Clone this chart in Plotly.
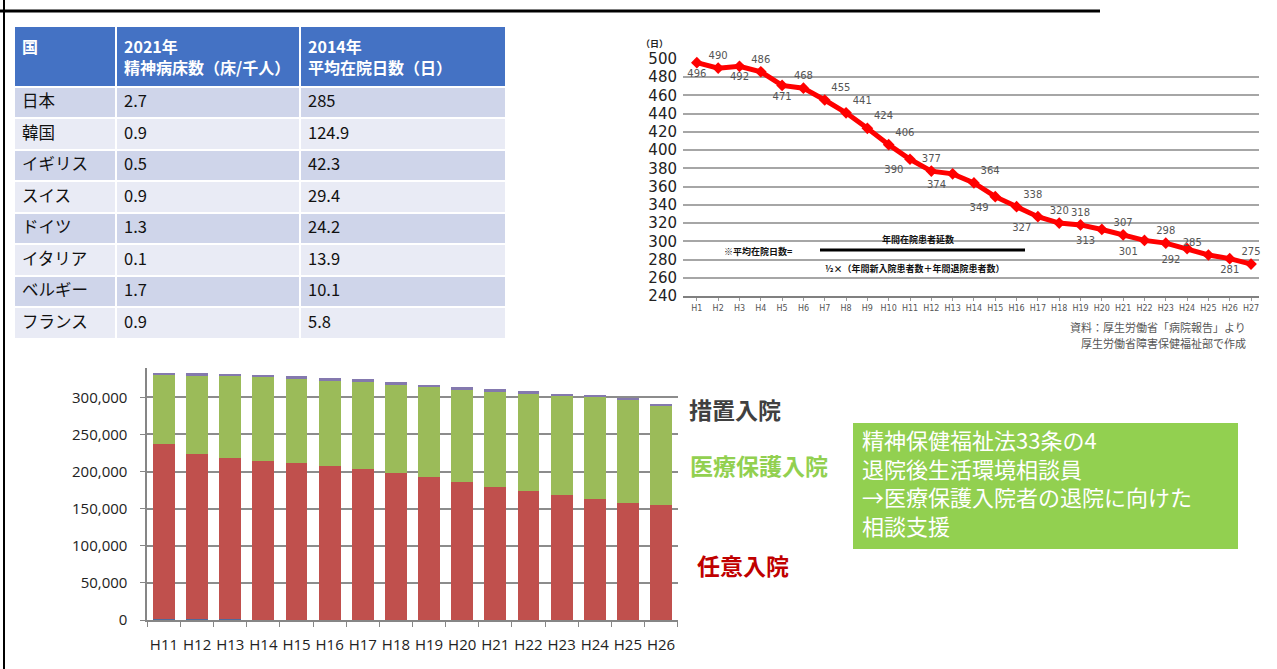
import plotly.graph_objects as go

W, H = 1277, 669
JP = "Noto Sans CJK JP"

# ---- table data ----
countries = ["日本", "韓国", "イギリス", "スイス", "ドイツ", "イタリア", "ベルギー", "フランス"]
beds_2021 = ["2.7", "0.9", "0.5", "0.9", "1.3", "0.1", "1.7", "0.9"]
stay_2014 = ["285", "124.9", "42.3", "29.4", "24.2", "13.9", "10.1", "5.8"]
table_header = ["<b>国</b>", "<b>2021年<br>精神病床数（床/千人）</b>", "<b>2014年<br>平均在院日数（日）</b>"]

# ---- average length of stay (H1..H27) ----
years_stay = ["H%d" % i for i in range(1, 28)]
avg_stay = [496, 490, 492, 486, 471, 468, 455, 441, 424, 406, 390, 377, 374, 364,
            349, 338, 327, 320, 318, 313, 307, 301, 298, 292, 285, 281, 275]
stay_label_pos = ["bottom center", "top center", "bottom center", "top center", "bottom center",
                  "top center", "top right", "top right", "top right", "top right",
                  "bottom left", "top center", "bottom left", "top right", "bottom left",
                  "top right", "bottom left", "top center", "top center", "bottom left",
                  "top center", "bottom left", "top center", "bottom left", "top left",
                  "bottom center", "top center"]

# ---- inpatients by admission type (H11..H26) ----
years_adm = ["H%d" % i for i in range(11, 27)]
other_adm = [1500, 1000, 1500, 600, 0, 0, 0, 0, 0, 0, 0, 0, 0, 0, 0, 0]
voluntary = [235200, 222200, 216700, 214000, 211100, 207400, 203000, 198400, 192200, 185500,
             179600, 174200, 168400, 163400, 157600, 154900]
medical_protection = [93000, 105900, 110600, 112600, 115000, 116200, 118900, 119600, 122300,
                      126000, 129300, 132100, 134700, 137700, 139400, 134600]
involuntary = [3400, 3200, 3000, 2800, 2600, 2400, 2300, 2200, 2100, 2000, 1900, 1800,
               1700, 1600, 1600, 1500]

box_lines = ["精神保健福祉法33条の4", "退院後生活環境相談員", "→医療保護入院者の退院に向けた", "相談支援"]


def fx(px):
    return px / W


def fy(py):
    return 1 - py / H


fig = go.Figure()

# ---- table ----
row_fill = ["#CFD5EA" if i % 2 == 0 else "#E9EBF5" for i in range(len(countries))]
fig.add_trace(go.Table(
    domain=dict(x=[fx(14), fx(506)], y=[fy(360), fy(26)]),
    columnwidth=[102, 184, 206],
    header=dict(values=table_header, fill_color="#4472C4", line=dict(color="white", width=2),
                font=dict(family=JP, size=16, color="white"), align="left", height=52),
    cells=dict(values=[countries, beds_2021, stay_2014], fill_color=[row_fill] * 3,
               line=dict(color="white", width=2),
               font=dict(family=JP, size=16.5, color="#111111"), align="left", height=31.5),
))

# ---- line chart ----
fig.add_trace(go.Scatter(
    x=list(range(len(avg_stay))), y=avg_stay, mode="lines+markers+text",
    line=dict(color="#FF0000", width=5), marker=dict(symbol="diamond", size=9, color="#FF0000"),
    text=[str(v) for v in avg_stay], textposition=stay_label_pos,
    textfont=dict(family="DejaVu Sans", size=10, color="#555555"),
    xaxis="x", yaxis="y", showlegend=False, cliponaxis=False,
))

# ---- stacked bars ----
bar_series = [
    ("その他", other_adm, "#4F6A9B"),
    ("任意入院", voluntary, "#C0504D"),
    ("医療保護入院", medical_protection, "#9BBB59"),
    ("措置入院", involuntary, "#8479AE"),
]
for name, vals, col in bar_series:
    fig.add_trace(go.Bar(x=years_adm, y=vals, name=name, marker=dict(color=col, line=dict(width=0)),
                         xaxis="x2", yaxis="y2", showlegend=False))

fig.update_layout(
    width=W, height=H, margin=dict(l=0, r=0, t=0, b=0, pad=0), autosize=False,
    paper_bgcolor="white", plot_bgcolor="white",
    barmode="stack", bargap=0.34,
    xaxis=dict(domain=[fx(683), fx(1258.5)], anchor="y", range=[-0.65, 26.35], tickmode="array",
               tickvals=list(range(len(years_stay))), ticktext=years_stay, tickangle=0, automargin=False,
               tickfont=dict(family="DejaVu Sans", size=8, color="#555555"),
               showgrid=False, zeroline=False, showline=True, linecolor="#808080", linewidth=2,
               ticks="outside", ticklen=3, tickcolor="#999999"),
    yaxis=dict(domain=[fy(296), fy(59)], anchor="x", range=[240, 500], dtick=20, tick0=240, automargin=False,
               tickfont=dict(family="DejaVu Sans", size=15, color="#222222"),
               showgrid=True, gridcolor="#A6A6A6", gridwidth=2, zeroline=False, showline=False,
               ticklabelstandoff=5),
    xaxis2=dict(domain=[fx(147.4), fx(677.6)], anchor="y2", range=[-0.5, 15.5], tickangle=0, automargin=False,
                tickfont=dict(family="Open Sans", size=15, color="#222222"),
                showgrid=False, zeroline=False, showline=True, linecolor="#868686", linewidth=2,
                ticks="outside", ticklen=5, tickcolor="#868686", tickson="boundaries",
                ticklabelstandoff=10),
    yaxis2=dict(domain=[fy(620), fy(367.6)], anchor="x2", range=[0, 340000], dtick=50000, tickformat=",",
                automargin=False,
                tickfont=dict(family="Open Sans", size=15, color="#222222"),
                showgrid=True, gridcolor="#8C8C8C", gridwidth=1.5, zeroline=False,
                showline=True, linecolor="#868686", linewidth=2,
                ticks="outside", ticklen=5, tickcolor="#868686", ticklabelstandoff=10),
)

shapes = [
    dict(type="line", xref="paper", yref="paper", x0=0, x1=fx(1100), y0=fy(11), y1=fy(11),
         line=dict(color="black", width=3)),
    dict(type="line", xref="paper", yref="paper", x0=fx(4), x1=fx(4), y0=0, y1=1,
         line=dict(color="black", width=2)),
    # fraction bar of the formula
    dict(type="line", xref="paper", yref="paper", x0=fx(820), x1=fx(1025), y0=fy(250), y1=fy(250),
         line=dict(color="black", width=3)),
    # note box
    dict(type="rect", xref="paper", yref="paper", x0=fx(853), x1=fx(1238), y0=fy(549), y1=fy(423),
         fillcolor="#92D050", line=dict(width=0)),
]

ann = []


def text(px, py, s, size, color, bold=False, anchor="center", family=JP):
    ann.append(dict(x=fx(px), y=fy(py), xref="paper", yref="paper", text=("<b>%s</b>" % s) if bold else s,
                    showarrow=False, xanchor=anchor, yanchor="middle", align=anchor if anchor != "center" else "center",
                    font=dict(family=family, size=size, color=color)))


text(654, 43, "（日）", 9, "#222222", bold=True)
text(758, 251, "※平均在院日数=", 9, "#111111", bold=True)
text(918, 240, "年間在院患者延数", 9, "#111111", bold=True)
text(915, 268, "½×（年間新入院患者数＋年間退院患者数）", 9, "#111111", bold=True)
text(1248, 327, "資料：厚生労働省「病院報告」より", 11, "#555555", anchor="right")
text(1248, 343, "厚生労働省障害保健福祉部で作成", 11, "#555555", anchor="right")

text(687, 409, "措置入院", 23, "#404040", bold=True, anchor="left")
text(688, 465, "医療保護入院", 23, "#92D050", bold=True, anchor="left")
text(695, 565, "任意入院", 23, "#C00000", bold=True, anchor="left")

# note text as one multi-line block inside the green box
text(860, 482, "<br>".join(box_lines), 22, "white", anchor="left")

fig.update_layout(shapes=shapes, annotations=ann)
fig.write_html("out.html", post_script="document.body.style.margin='0px';document.body.style.overflow='hidden';")
